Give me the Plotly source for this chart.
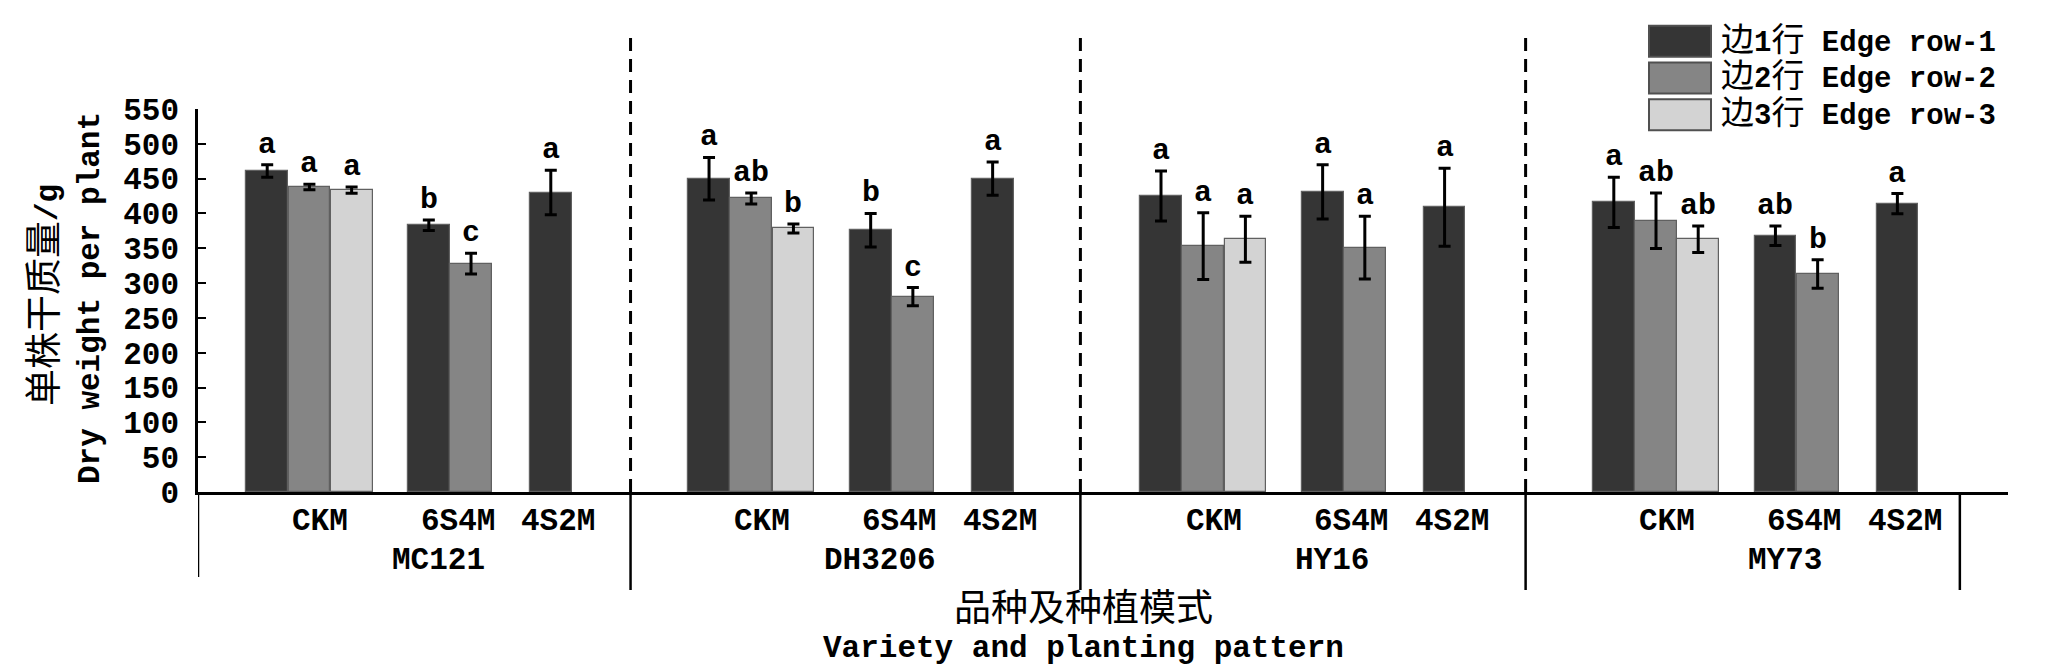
import plotly.graph_objects as go

# --- datos ---
varieties = ["MC121", "DH3206", "HY16", "MY73"]
treatments = ["CKM", "6S4M", "4S2M"]
series_names = ["边1行 Edge row-1", "边2行 Edge row-2", "边3行 Edge row-3"]

# orden: variedad x tratamiento (CKM, 6S4M, 4S2M)
row1_mean = [461, 383, 430, 450, 376, 450, 425, 431, 409, 416, 368, 414]
row1_err = [9, 7.5, 32, 30.5, 24, 24, 36, 39, 56, 36, 14, 14.5]
row1_sig = ["a", "b", "a", "a", "b", "a", "a", "a", "a", "a", "ab", "a"]

row2_mean = [438, 328, None, 421.5, 280.5, None, 353, 351, None, 389.5, 313, None]
row2_err = [4, 15, None, 8, 13, None, 48, 45, None, 40, 20.5, None]
row2_sig = ["a", "c", None, "ab", "c", None, "a", "a", None, "ab", "b", None]

row3_mean = [433.5, None, None, 378.5, None, None, 363, None, None, 363, None, None]
row3_err = [4.5, None, None, 6.5, None, None, 33, None, None, 19, None, None]
row3_sig = ["a", None, None, "b", None, None, "a", None, None, "ab", None, None]

y_ticks = list(range(0, 551, 50))

# --- disposicion (unidad x = ancho de una barra) ---
W, H = 2047, 671
L, R, T, B = 190, 47, 101, 187
px_per_unit = 42.2
x_max = (W - L - R) / px_per_unit
group_base = [1.64, 12.11, 22.82, 33.55]
treat_start = [0, 3.83, 6.72]
treat_label_off = [1.26, 4.51, 6.9]
variety_label_off = 4.06
dash_dividers = [10.25, 20.91, 31.46]
solid_ends = [(0, 569), (41.75, 582)]

colors = ["#353535", "#858585", "#d3d3d3"]
LAT = "Liberation Mono, Noto Sans CJK SC"
FS = 31
CJK = 37


def cjk(s, size=CJK):
    # caracteres chinos mas grandes y sin negrita (como SimSun)
    out = ""
    for ch in s:
        if ord(ch) > 0x2e80:
            out += f'<span style="font-size:{size}px;font-weight:normal">{ch}</span>'
        else:
            out += ch
    return out


def py(p):
    return (H - B - p) / (H - T - B)


def px(p):
    return (p - L) / (W - L - R)


def fnt(size=FS):
    return dict(size=size, family=LAT, color="black", weight="bold")


fig = go.Figure()
annotations = []
rows = [(row1_mean, row1_err, row1_sig), (row2_mean, row2_err, row2_sig), (row3_mean, row3_err, row3_sig)]
for r, (means, errs, sigs) in enumerate(rows):
    xs = []
    for v in range(len(varieties)):
        for t in range(len(treatments)):
            xs.append(group_base[v] + treat_start[t] + r)
    fig.add_trace(go.Bar(
        x=xs, y=means, width=0.99, name=series_names[r], showlegend=False,
        marker=dict(color=colors[r], line=dict(color="#606060", width=1.2)),
        error_y=dict(type="data", array=errs, visible=True, color="black", thickness=3, width=6),
    ))
    for xv, m, e, s in zip(xs, means, errs, sigs):
        if m is None:
            continue
        annotations.append(dict(x=xv, y=m + e, xref="x", yref="y", text=s, showarrow=False,
                                yanchor="bottom", yshift=1, font=fnt(30)))

# etiquetas de tratamiento y variedad
for v, name in enumerate(varieties):
    for t, tr in enumerate(treatments):
        annotations.append(dict(x=group_base[v] + treat_label_off[t], y=py(513), xref="x", yref="paper",
                                text=tr, showarrow=False, yanchor="middle", font=fnt()))
    annotations.append(dict(x=group_base[v] + variety_label_off, y=py(552), xref="x", yref="paper",
                            text=name, showarrow=False, yanchor="middle", font=fnt()))

# titulos de ejes
annotations.append(dict(x=px(38), y=py(287), xref="paper", yref="paper", text=cjk("单株干质量/g"),
                        textangle=-90, showarrow=False, xanchor="center", yanchor="middle", font=fnt()))
annotations.append(dict(x=px(82), y=py(290), xref="paper", yref="paper", text="Dry weight per plant",
                        textangle=-90, showarrow=False, xanchor="center", yanchor="middle", font=fnt()))
annotations.append(dict(x=px(1075), y=py(602), xref="paper", yref="paper", text=cjk("品种及种植模式"),
                        showarrow=False, yanchor="middle", font=fnt()))
annotations.append(dict(x=px(1075), y=py(640), xref="paper", yref="paper", text="Variety and planting pattern",
                        showarrow=False, yanchor="middle", font=fnt()))

# leyenda dibujada a mano (cajas grandes como en el original)
shapes = []
legend_rows = [33.3, 70, 106.7]
for r, yc in enumerate(legend_rows):
    shapes.append(dict(type="rect", xref="paper", yref="paper", x0=px(1641), x1=px(1703),
                       y0=py(yc + 15.5), y1=py(yc - 15.5), fillcolor=colors[r],
                       line=dict(color="#505050", width=2)))
    annotations.append(dict(x=px(1711), y=py(yc), xref="paper", yref="paper", text=cjk(series_names[r], 33),
                            showarrow=False, xanchor="left", yanchor="middle", align="left",
                            font=fnt(29)))

# divisiones entre variedades
for d in dash_dividers:
    shapes.append(dict(type="line", xref="x", yref="paper", x0=d, x1=d, y0=0, y1=py(27),
                       line=dict(color="black", width=3, dash="13px,8px")))
    shapes.append(dict(type="line", xref="x", yref="paper", x0=d, x1=d, y0=0, y1=py(582),
                       line=dict(color="black", width=2.5)))
for d, yb in solid_ends:
    shapes.append(dict(type="line", xref="x", yref="paper", x0=d, x1=d, y0=0, y1=py(yb),
                       line=dict(color="black", width=2.5)))

fig.update_layout(
    width=W, height=H, margin=dict(l=L, r=R, t=T, b=B),
    paper_bgcolor="white", plot_bgcolor="white",
    barmode="overlay", bargap=0,
    annotations=annotations, shapes=shapes,
    font=dict(family=LAT, color="black"),
)
fig.update_xaxes(range=[0, x_max], showline=True, linecolor="black", linewidth=2.5,
                 showticklabels=False, ticks="", showgrid=False, zeroline=False)
fig.update_yaxes(range=[0, 550], tickvals=y_ticks, showline=True, linecolor="black", linewidth=2.5,
                 ticks="inside", ticklen=8, tickwidth=2, tickcolor="black", showgrid=False,
                 zeroline=False, ticklabelstandoff=10, tickfont=fnt(31))

fig.write_html("out.html")
